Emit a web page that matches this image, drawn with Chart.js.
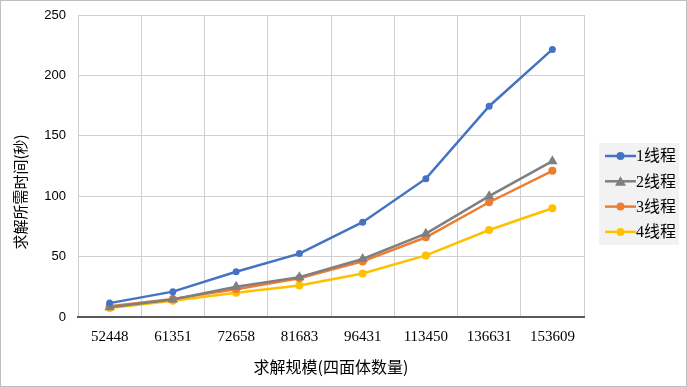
<!DOCTYPE html>
<html>
<head>
<meta charset="utf-8">
<script src="https://cdn.jsdelivr.net/npm/chart.js@4"></script>
<style>
  html, body { margin: 0; padding: 0; background: #fff; }
  #wrap { width: 687px; height: 387px; }
</style>
</head>
<body>
<div id="wrap"><canvas id="graph" width="687" height="387"></canvas></div>
<script>
const categories = ['52448', '61351', '72658', '81683', '96431', '113450', '136631', '153609']
const thread1 = [11.5, 21, 37.5, 52.5, 78.5, 114.5, 174.5, 221.5]
const thread2 = [8, 14.5, 25, 33, 48, 69, 100, 129]
const thread3 = [9, 15, 23, 32, 46, 66, 95, 121]
const thread4 = [7.5, 13.5, 20, 26, 36, 51, 72, 90]
const seriesNames = ['1线程', '2线程', '3线程', '4线程']
const yTicks = [0, 50, 100, 150, 200, 250]
const xTitle = '求解规模(四面体数量)'
const yTitle = '求解所需时间(秒)'

const cjk = "'Noto Sans CJK SC', sans-serif"
const serif = "'Liberation Serif', 'Noto Sans CJK SC', serif"

const colors = ['#4472C4', '#7F7F7F', '#ED7D31', '#FFC000']
const styles = ['circle', 'triangle', 'circle', 'circle']
const values = [thread1, thread2, thread3, thread4]

// border, y title and the legend box on the right
const frame = {
    id: 'frame',
    afterDraw(chart) {
        const ctx = chart.ctx
        ctx.save()
        // y axis title, centred on the canvas like the original
        ctx.translate(20, 192)
        ctx.rotate(-Math.PI / 2)
        ctx.fillStyle = '#000'
        ctx.font = "15px " + cjk
        ctx.textAlign = 'center'
        ctx.textBaseline = 'middle'
        ctx.fillText(yTitle, 0, 0)
        ctx.restore()

        // legend
        ctx.save()
        ctx.fillStyle = '#F2F2F2'
        ctx.fillRect(599, 143, 80, 102)
        chart.data.datasets.forEach((d, i) => {
            const y = 156 + i * 25.3
            ctx.strokeStyle = colors[i]
            ctx.fillStyle = colors[i]
            ctx.lineWidth = 2.5
            ctx.beginPath()
            ctx.moveTo(605, y)
            ctx.lineTo(636, y)
            ctx.stroke()
            ctx.beginPath()
            if (styles[i] === 'triangle') {
                ctx.moveTo(620.5, y - 5)
                ctx.lineTo(626, y + 4.5)
                ctx.lineTo(615, y + 4.5)
                ctx.closePath()
            } else {
                ctx.arc(620.5, y, 4, 0, Math.PI * 2)
            }
            ctx.fill()
            ctx.fillStyle = '#000'
            ctx.font = "16px " + serif
            ctx.textAlign = 'left'
            ctx.textBaseline = 'middle'
            ctx.fillText(d.label, 636, y + 1)
        })
        ctx.strokeStyle = '#BFBFBF'
        ctx.lineWidth = 1
        ctx.strokeRect(0.5, 0.5, chart.width - 1, chart.height - 1)
        ctx.restore()
    }
}

let ctx = document.getElementById('graph').getContext('2d')
new Chart(ctx, {
    type: 'line',
    data: {
        labels: categories,
        datasets: values.map((v, i) => ({
            label: seriesNames[i],
            data: v,
            borderColor: colors[i],
            backgroundColor: colors[i],
            borderWidth: 2.5,
            pointStyle: styles[i],
            pointRadius: styles[i] === 'triangle' ? 6 : (i === 0 ? 3.5 : 4),
            pointBorderWidth: 0,
            tension: 0
        }))
    },
    options: {
        responsive: false,
        animation: false,
        devicePixelRatio: 1,
        layout: { padding: { left: 0, right: 103, top: 15, bottom: 10 } },
        plugins: {
            tooltip: { enabled: false },
            legend: { display: false }
        },
        scales: {
            x: {
                offset: true,
                grid: { offset: true, color: '#D0D0D0', drawTicks: false },
                border: { color: '#595959', width: 2 },
                ticks: { color: '#000', font: { family: serif, size: 15 }, padding: 11, maxRotation: 0 },
                title: {
                    display: true,
                    text: xTitle,
                    color: '#000',
                    font: { family: cjk, size: 16 },
                    padding: { top: 5, bottom: 0 }
                },
                afterFit: (s) => {
                    s.height = 60
                    s.paddingLeft = 0
                    s.paddingRight = 0
                }
            },
            y: {
                min: 0,
                max: 250,
                afterBuildTicks: (s) => { s.ticks = yTicks.map(v => ({ value: v })) },
                grid: { color: '#D0D0D0', drawTicks: false },
                border: { display: false },
                ticks: { color: '#000', font: { family: "'Liberation Sans', sans-serif", size: 13 }, padding: 12 },
                afterFit: (s) => {
                    s.width = 78
                    s.paddingTop = 0
                    s.paddingBottom = 0
                }
            }
        }
    },
    plugins: [frame]
});
</script>
</body>
</html>
